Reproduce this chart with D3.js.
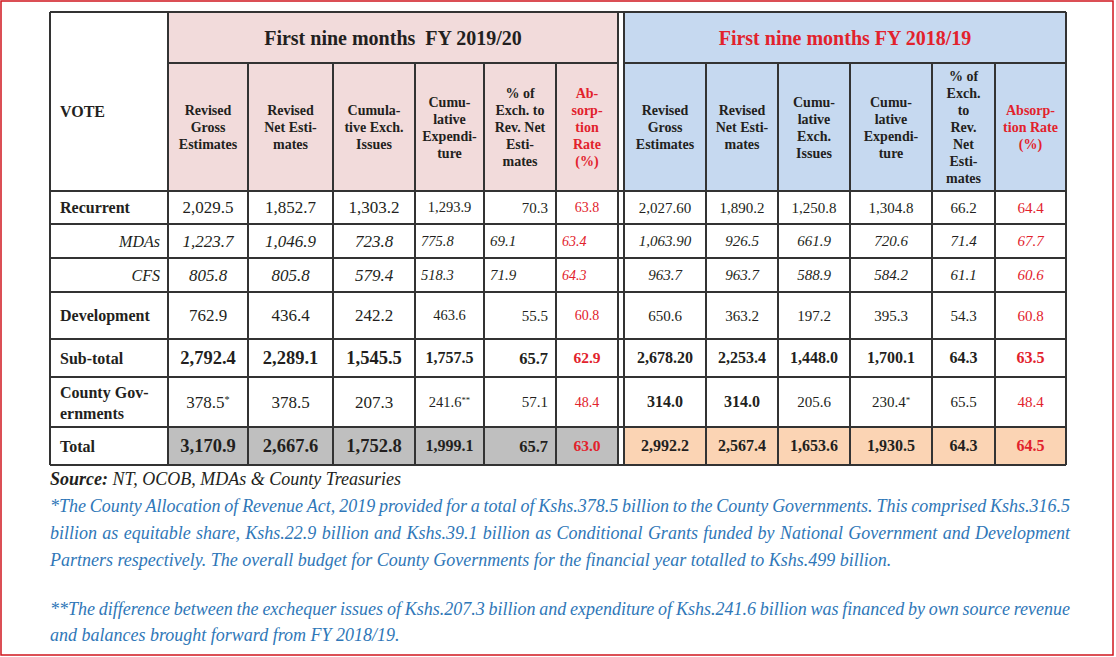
<!DOCTYPE html>
<html>
<head>
<meta charset="utf-8">
<script src="https://cdn.jsdelivr.net/npm/d3@7"></script>
<style>
  body { margin: 0; background: #fff; }
  svg { display: block; font-family: "Liberation Serif", "Times New Roman", serif; }
</style>
</head>
<body>
<div id="chart"></div>
<script>
// ---- data ----
const voteLabels = ["Recurrent", "MDAs", "CFS", "Development", "Sub-total", "County Gov-ernments", "Total"];

const headers2019 = [
  ["Revised", "Gross", "Estimates"],
  ["Revised", "Net Esti-", "mates"],
  ["Cumula-", "tive Exch.", "Issues"],
  ["Cumu-", "lative", "Expendi-", "ture"],
  ["% of", "Exch. to", "Rev. Net", "Esti-", "mates"],
  ["Ab-", "sorp-", "tion", "Rate", "(%)"]
];
const headers2018 = [
  ["Revised", "Gross", "Estimates"],
  ["Revised", "Net Esti-", "mates"],
  ["Cumu-", "lative", "Exch.", "Issues"],
  ["Cumu-", "lative", "Expendi-", "ture"],
  ["% of", "Exch.", "to", "Rev.", "Net", "Esti-", "mates"],
  ["Absorp-", "tion Rate", "(%)"]
];

const fy2019Values = [
  ["2,029.5", "1,852.7", "1,303.2", "1,293.9", "70.3", "63.8"],
  ["1,223.7", "1,046.9", "723.8", "775.8", "69.1", "63.4"],
  ["805.8", "805.8", "579.4", "518.3", "71.9", "64.3"],
  ["762.9", "436.4", "242.2", "463.6", "55.5", "60.8"],
  ["2,792.4", "2,289.1", "1,545.5", "1,757.5", "65.7", "62.9"],
  ["378.5*", "378.5", "207.3", "241.6**", "57.1", "48.4"],
  ["3,170.9", "2,667.6", "1,752.8", "1,999.1", "65.7", "63.0"]
];
const fy2018Values = [
  ["2,027.60", "1,890.2", "1,250.8", "1,304.8", "66.2", "64.4"],
  ["1,063.90", "926.5", "661.9", "720.6", "71.4", "67.7"],
  ["963.7", "963.7", "588.9", "584.2", "61.1", "60.6"],
  ["650.6", "363.2", "197.2", "395.3", "54.3", "60.8"],
  ["2,678.20", "2,253.4", "1,448.0", "1,700.1", "64.3", "63.5"],
  ["314.0", "314.0", "205.6", "230.4*", "65.5", "48.4"],
  ["2,992.2", "2,567.4", "1,653.6", "1,930.5", "64.3", "64.5"]
];

const sourceText = "NT, OCOB, MDAs & County Treasuries";
const noteLines = [
  "*The County Allocation of Revenue Act, 2019 provided for a total of Kshs.378.5 billion to the County Governments. This comprised Kshs.316.5",
  "billion as equitable share, Kshs.22.9 billion and Kshs.39.1 billion as Conditional Grants funded by National Government and Development",
  "Partners respectively. The overall budget for County Governments for the financial year totalled to Kshs.499 billion.",
  "",
  "**The difference between the exchequer issues of Kshs.207.3 billion and expenditure of Kshs.241.6 billion was financed by own source revenue",
  "and balances brought forward from FY 2018/19."
];

// ---- layout ----
const width = 1116, height = 657;
const red = "#e2222c", ink = "#231f20", lineCol = "#333", noteBlue = "#2f77b8";

const cols = d3.range(6);
const x2019 = d3.scaleOrdinal(cols, [168, 248, 333, 415, 484, 556]);
const x2018 = d3.scaleOrdinal(cols, [624, 706, 778, 850, 932, 995]);
const right2019 = 618, right2018 = 1066, tableLeft = 50;
const y = d3.scaleOrdinal(voteLabels, [191, 224, 258, 292, 339, 377, 427]);
const tableTop = 12, headMid = 63, tableBottom = 465;

function colW(xs, right, i) { return (i < 5 ? xs(i + 1) : right) - xs(i); }
function rowH(i) { return (i < voteLabels.length - 1 ? y(voteLabels[i + 1]) : tableBottom) - y(voteLabels[i]); }

// per-cell text style
const fs2019 = [17, 17, 17, 14.5, 15, 14];
const fs2018 = [15, 15, 15, 15, 15, 15];
// alignment quirks of the 2019/20 block
function align2019(r, c) {
  if (r === 1 || r === 2) {
    if (c >= 3) return "left";
    return "middle";
  }
  if (c === 4) return "right";
  return "middle";
}
function isBold(block, r, c) {
  if (r === 4 || r === 6) return true;
  if (block === 2018 && r === 5 && c < 2) return true;
  return false;
}

const svg = d3.select("#chart").append("svg")
  .attr("width", width).attr("height", height);

// outer red frame
svg.append("rect")
  .attr("x", 1).attr("y", 1).attr("width", 1112).attr("height", 654)
  .attr("fill", "none").attr("stroke", "#d0161e").attr("stroke-width", 1.5);

// fills
svg.append("rect").attr("x", x2019(0)).attr("y", tableTop)
  .attr("width", right2019 - x2019(0)).attr("height", y(voteLabels[0]) - tableTop)
  .attr("fill", "#f2dbdb");
svg.append("rect").attr("x", x2018(0)).attr("y", tableTop)
  .attr("width", right2018 - x2018(0)).attr("height", y(voteLabels[0]) - tableTop)
  .attr("fill", "#c6d9f0");
const lastRow = voteLabels.length - 1;
svg.append("rect").attr("x", x2019(0)).attr("y", y(voteLabels[lastRow]))
  .attr("width", right2019 - x2019(0)).attr("height", rowH(lastRow))
  .attr("fill", "#bfbfbf");
svg.append("rect").attr("x", x2018(0)).attr("y", y(voteLabels[lastRow]))
  .attr("width", right2018 - x2018(0)).attr("height", rowH(lastRow))
  .attr("fill", "#fbd4b4");

// grid lines
const grid = svg.append("g").attr("stroke", lineCol).attr("stroke-width", 2).attr("fill", "none");
const hLine = (x1, x2, yy) => grid.append("line").attr("x1", x1).attr("x2", x2).attr("y1", yy).attr("y2", yy);
const vLine = (xx, y1, y2) => grid.append("line").attr("x1", xx).attr("x2", xx).attr("y1", y1).attr("y2", y2);

hLine(tableLeft, right2018, tableTop);
hLine(tableLeft, right2018, tableBottom);
hLine(x2019(0), right2019, headMid);
hLine(x2018(0), right2018, headMid);
voteLabels.forEach(v => hLine(tableLeft, right2018, y(v)));
vLine(tableLeft, tableTop, tableBottom);
vLine(right2018, tableTop, tableBottom);
cols.forEach(c => {
  vLine(x2019(c), c === 0 ? tableTop : headMid, tableBottom);
  vLine(x2018(c), c === 0 ? tableTop : headMid, tableBottom);
});
vLine(right2019, tableTop, tableBottom);

// header titles
svg.append("text")
  .attr("x", (x2019(0) + right2019) / 2).attr("y", (tableTop + headMid) / 2 + 7)
  .attr("text-anchor", "middle").attr("font-weight", "bold").attr("font-size", 20)
  .attr("fill", ink).style("white-space", "pre")
  .text("First nine months  FY 2019/20");
svg.append("text")
  .attr("x", (x2018(0) + right2018) / 2).attr("y", (tableTop + headMid) / 2 + 7)
  .attr("text-anchor", "middle").attr("font-weight", "bold").attr("font-size", 20)
  .attr("fill", red)
  .text("First nine months FY 2018/19");

svg.append("text")
  .attr("x", 60).attr("y", 117)
  .attr("font-weight", "bold").attr("font-size", 16).attr("fill", ink)
  .text("VOTE");

// column headers
function drawHeaders(headers, xs, right) {
  const midY = (headMid + y(voteLabels[0])) / 2;
  headers.forEach((lines, c) => {
    const cx = xs(c) + colW(xs, right, c) / 2;
    const t = svg.append("text")
      .attr("text-anchor", "middle").attr("font-weight", "bold").attr("font-size", 14)
      .attr("fill", c === 5 ? red : ink);
    lines.forEach((ln, k) => {
      t.append("tspan").attr("x", cx)
        .attr("y", midY + (k - (lines.length - 1) / 2) * 17 + 5)
        .text(ln);
    });
  });
}
drawHeaders(headers2019, x2019, right2019);
drawHeaders(headers2018, x2018, right2018);

// vote labels
voteLabels.forEach((v, r) => {
  const cy = y(v) + rowH(r) / 2;
  const italic = r === 1 || r === 2;
  const t = svg.append("text")
    .attr("font-size", 16).attr("fill", ink)
    .attr("font-weight", italic ? "normal" : "bold")
    .attr("font-style", italic ? "italic" : "normal");
  if (italic) {
    t.attr("text-anchor", "end").attr("x", 160).attr("y", cy + 5.5).text(v);
  } else if (v.includes("-e")) {
    const parts = v.split("-");
    t.append("tspan").attr("x", 60).attr("y", cy - 4).text(parts[0] + "-");
    t.append("tspan").attr("x", 60).attr("y", cy + 17).text(parts[1]);
  } else {
    t.attr("x", 60).attr("y", cy + 5.5).text(v);
  }
});

// values
function drawValues(values, xs, right, block, sizes) {
  values.forEach((row, r) => {
    const cy = y(voteLabels[r]) + rowH(r) / 2;
    const italic = r === 1 || r === 2;
    row.forEach((val, c) => {
      const bold = isBold(block, r, c);
      const fs = sizes[c] + (bold ? (block === 2019 ? 1.5 : 1) : 0);
      const a = block === 2019 ? align2019(r, c) : "middle";
      const w = colW(xs, right, c);
      const xx = a === "left" ? xs(c) + 6 : a === "right" ? xs(c) + w - 8 : xs(c) + w / 2;
      const t = svg.append("text")
        .attr("x", xx).attr("y", cy + fs * 0.34)
        .attr("text-anchor", a === "left" ? "start" : a === "right" ? "end" : "middle")
        .attr("font-size", fs)
        .attr("font-weight", bold ? "bold" : "normal")
        .attr("font-style", italic ? "italic" : "normal")
        .attr("fill", c === 5 ? red : ink);
      const m = val.match(/^([^*]*)(\**)$/);
      t.append("tspan").text(m[1]);
      if (m[2]) t.append("tspan").attr("font-size", fs * 0.6).attr("dy", -fs * 0.3).text(m[2]);
    });
  });
}
drawValues(fy2019Values, x2019, right2019, 2019, fs2019);
drawValues(fy2018Values, x2018, right2018, 2018, fs2018);

// source line
const src = svg.append("text").attr("x", tableLeft).attr("y", 485)
  .attr("font-size", 18).attr("font-style", "italic").attr("fill", ink);
src.append("tspan").attr("font-weight", "bold").text("Source:");
src.append("tspan").text(" " + sourceText);

// footnotes, justified like the original
const noteRight = 1070, noteFs = 18;
const notes = svg.append("g").attr("font-size", noteFs).attr("font-style", "italic").attr("fill", noteBlue);
const baselines = [512, 539, 566, 590, 615, 641];
noteLines.forEach((ln, i) => {
  if (!ln) return;
  const justify = i === 0 || i === 1 || i === 4;
  const t = notes.append("text").attr("y", baselines[i]);
  if (!justify) { t.attr("x", tableLeft).text(ln); return; }
  const words = ln.split(" ");
  const spans = words.map(w => t.append("tspan").text(w));
  const widths = spans.map(s => s.node().getComputedTextLength());
  const gap = (noteRight - tableLeft - d3.sum(widths)) / (words.length - 1);
  let cx = tableLeft;
  spans.forEach((s, k) => { s.attr("x", cx); cx += widths[k] + gap; });
});
</script>
</body>
</html>
